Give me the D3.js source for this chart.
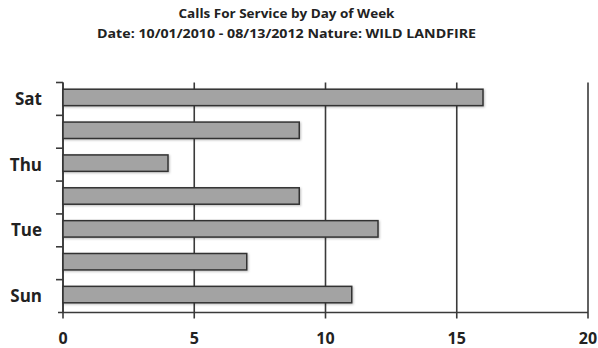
<!DOCTYPE html>
<html>
<head>
<meta charset="utf-8">
<script src="https://cdn.jsdelivr.net/npm/d3@7"></script>
<style>
  html, body { margin: 0; padding: 0; background: #fff; }
  svg { display: block; }
  text { font-family: "Open Sans", "Liberation Sans", sans-serif; font-weight: bold; fill: #222; }
</style>
</head>
<body>
<svg id="chart" width="598" height="348"></svg>
<script>
// Calls for service per weekday (bottom to top: Sun .. Sat)
const days = ["Sun", "Mon", "Tue", "Wed", "Thu", "Fri", "Sat"];
const calls = [11, 7, 12, 9, 4, 9, 16];
const shownDayLabels = ["Sun", "Tue", "Thu", "Sat"];
const xTicks = [0, 5, 10, 15, 20];
const titleLines = [
  "Calls For Service by Day of Week",
  "Date: 10/01/2010 - 08/13/2012  Nature: WILD LANDFIRE"
];
const titleWidths = [216, 379];

const svg = d3.select("#chart");
const margin = { left: 63, right: 10, top: 82.5, bottom: 35.5 };
const W = 598, H = 348;

const x = d3.scaleLinear().domain([0, 20]).range([margin.left, 588]);
const y = d3.scaleBand()
  .domain(days.slice().reverse())
  .range([margin.top, H - margin.bottom])
  .paddingInner(0.5)
  .paddingOuter(0.25);
const yEdges = d3.scaleBand().domain(days.slice().reverse()).range([margin.top, H - margin.bottom]);

// Title
svg.selectAll("text.title")
  .data(titleLines)
  .join("text")
  .attr("class", "title")
  .attr("x", 286.5)
  .attr("y", (d, i) => 18.3 + i * 19.4)
  .attr("text-anchor", "middle")
  .attr("textLength", (d, i) => titleWidths[i])
  .attr("lengthAdjust", "spacingAndGlyphs")
  .style("font-size", "12.5px")
  .text(d => d);

// Vertical gridlines with ticks below the axis
const plotBottom = H - margin.bottom;
svg.append("g")
  .selectAll("line")
  .data(xTicks)
  .join("line")
  .attr("x1", d => x(d)).attr("x2", d => x(d))
  .attr("y1", margin.top).attr("y2", plotBottom + 6)
  .attr("stroke", "#3a3a3a")
  .attr("stroke-width", 1.6);

// Bottom axis line
svg.append("line")
  .attr("x1", x(0) - 5).attr("x2", x(20))
  .attr("y1", plotBottom).attr("y2", plotBottom)
  .attr("stroke", "#3a3a3a").attr("stroke-width", 1.6);

// Left axis line and category boundary ticks
svg.append("line")
  .attr("x1", x(0)).attr("x2", x(0))
  .attr("y1", margin.top).attr("y2", plotBottom)
  .attr("stroke", "#3a3a3a").attr("stroke-width", 1.6);
const edges = yEdges.domain().map(d => yEdges(d));
svg.append("g")
  .selectAll("line")
  .data(edges)
  .join("line")
  .attr("x1", x(0) - 7).attr("x2", x(0))
  .attr("y1", d => d).attr("y2", d => d)
  .attr("stroke", "#3a3a3a").attr("stroke-width", 1.6);

// Bars
const defs = svg.append("defs");
const f = defs.append("filter").attr("id", "shadow").attr("x", "-5%").attr("y", "-30%").attr("width", "110%").attr("height", "160%");
f.append("feDropShadow").attr("dx", 1).attr("dy", 1).attr("stdDeviation", 0.8).attr("flood-color", "#000").attr("flood-opacity", 0.25);

svg.append("g")
  .selectAll("rect")
  .data(days.map((d, i) => ({ day: d, v: calls[i] })))
  .join("rect")
  .attr("x", x(0))
  .attr("y", d => y(d.day) - 1.5)
  .attr("width", d => x(d.v) - x(0))
  .attr("height", y.bandwidth())
  .attr("fill", "#a3a3a3")
  .attr("stroke", "#333")
  .attr("stroke-width", 1.5)
  .attr("filter", "url(#shadow)");

// Day labels (every other category)
svg.append("g")
  .selectAll("text")
  .data(shownDayLabels)
  .join("text")
  .attr("x", 42)
  .attr("y", d => yEdges(d) + yEdges.bandwidth() / 2)
  .attr("dy", "0.36em")
  .attr("text-anchor", "end")
  .style("font-size", "17px")
  .text(d => d);

// X tick labels
svg.append("g")
  .selectAll("text")
  .data(xTicks)
  .join("text")
  .attr("x", d => x(d))
  .attr("y", 343.5)
  .attr("text-anchor", "middle")
  .style("font-size", "16px")
  .text(d => d);
</script>
</body>
</html>
